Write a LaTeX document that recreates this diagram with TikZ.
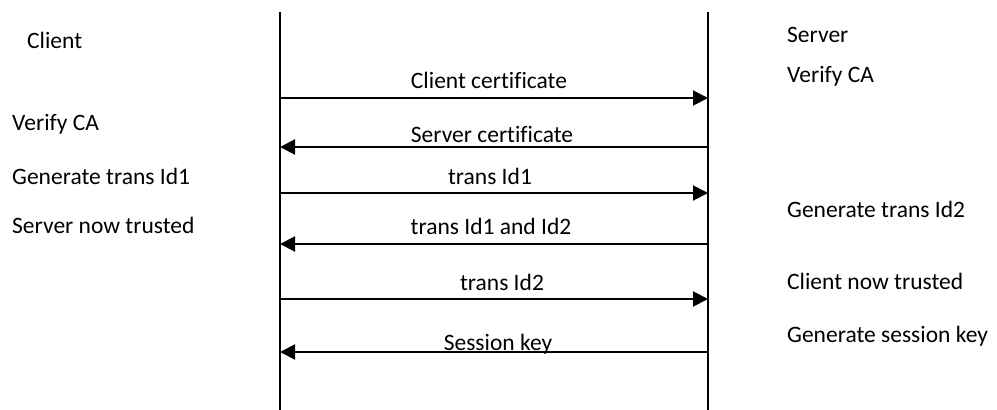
\documentclass[tikz,border=0pt]{standalone}
\usepackage{fontspec}
\setmainfont{Carlito}[Ligatures=NoCommon]
\usetikzlibrary{arrows.meta}
\begin{document}
\begin{tikzpicture}[x=1pt,y=-1pt,
  lbl/.style={font=\fontsize{23.5}{26}\selectfont, inner sep=0pt},
  side/.style={lbl, anchor=base west},
  msg/.style={lbl, anchor=base},
  lifeline/.style={line width=2pt},
  msgarrow/.style={line width=2pt, -{Triangle[length=15pt,width=15pt]}}]
  \useasboundingbox (0,0) rectangle (997,410);

  % lifelines
  \coordinate (ctop) at (280,12);
  \coordinate (cbot) at (280,410);
  \coordinate (stop) at (708,12);
  \coordinate (sbot) at (708,410);
  \draw[lifeline] (ctop) -- (cbot);
  \draw[lifeline] (stop) -- (sbot);

  % message end points on the lifelines
  \coordinate (c1) at (280,98);  \coordinate (s1) at (708,98);
  \coordinate (c2) at (280,147); \coordinate (s2) at (708,147);
  \coordinate (c3) at (280,193); \coordinate (s3) at (708,193);
  \coordinate (c4) at (280,244); \coordinate (s4) at (708,244);
  \coordinate (c5) at (280,299); \coordinate (s5) at (708,299);
  \coordinate (c6) at (280,352); \coordinate (s6) at (708,352);

  % client side
  \node[side] (client) at (27,48) {Client};
  \node[side] (cverify) at (12,130) {Verify CA};
  \node[side] (cgen) at (12,184) {Generate trans Id1};
  \node[side] (ctrust) at (12,233) {Server now trusted};

  % server side
  \node[side] (server) at (787,42) {Server};
  \node[side] (sverify) at (787,82) {Verify CA};
  \node[side] (sgen) at (787,217) {Generate trans Id2};
  \node[side] (strust) at (787,289) {Client now trusted};
  \node[side] (skey) at (787,342) {Generate session key};

  % messages
  \draw[msgarrow] (c1) -- (s1);
  \node[msg] (m1) at (489,88) {Client certificate};
  \draw[msgarrow] (s2) -- (c2);
  \node[msg] (m2) at (492,142) {Server certificate};
  \draw[msgarrow] (c3) -- (s3);
  \node[msg] (m3) at (490,184) {trans Id1};
  \draw[msgarrow] (s4) -- (c4);
  \node[msg] (m4) at (491,234) {trans Id1 and Id2};
  \draw[msgarrow] (c5) -- (s5);
  \node[msg] (m5) at (502,290) {trans Id2};
  \draw[msgarrow] (s6) -- (c6);
  \node[msg] (m6) at (498,350) {Session key};
\end{tikzpicture}
\end{document}
